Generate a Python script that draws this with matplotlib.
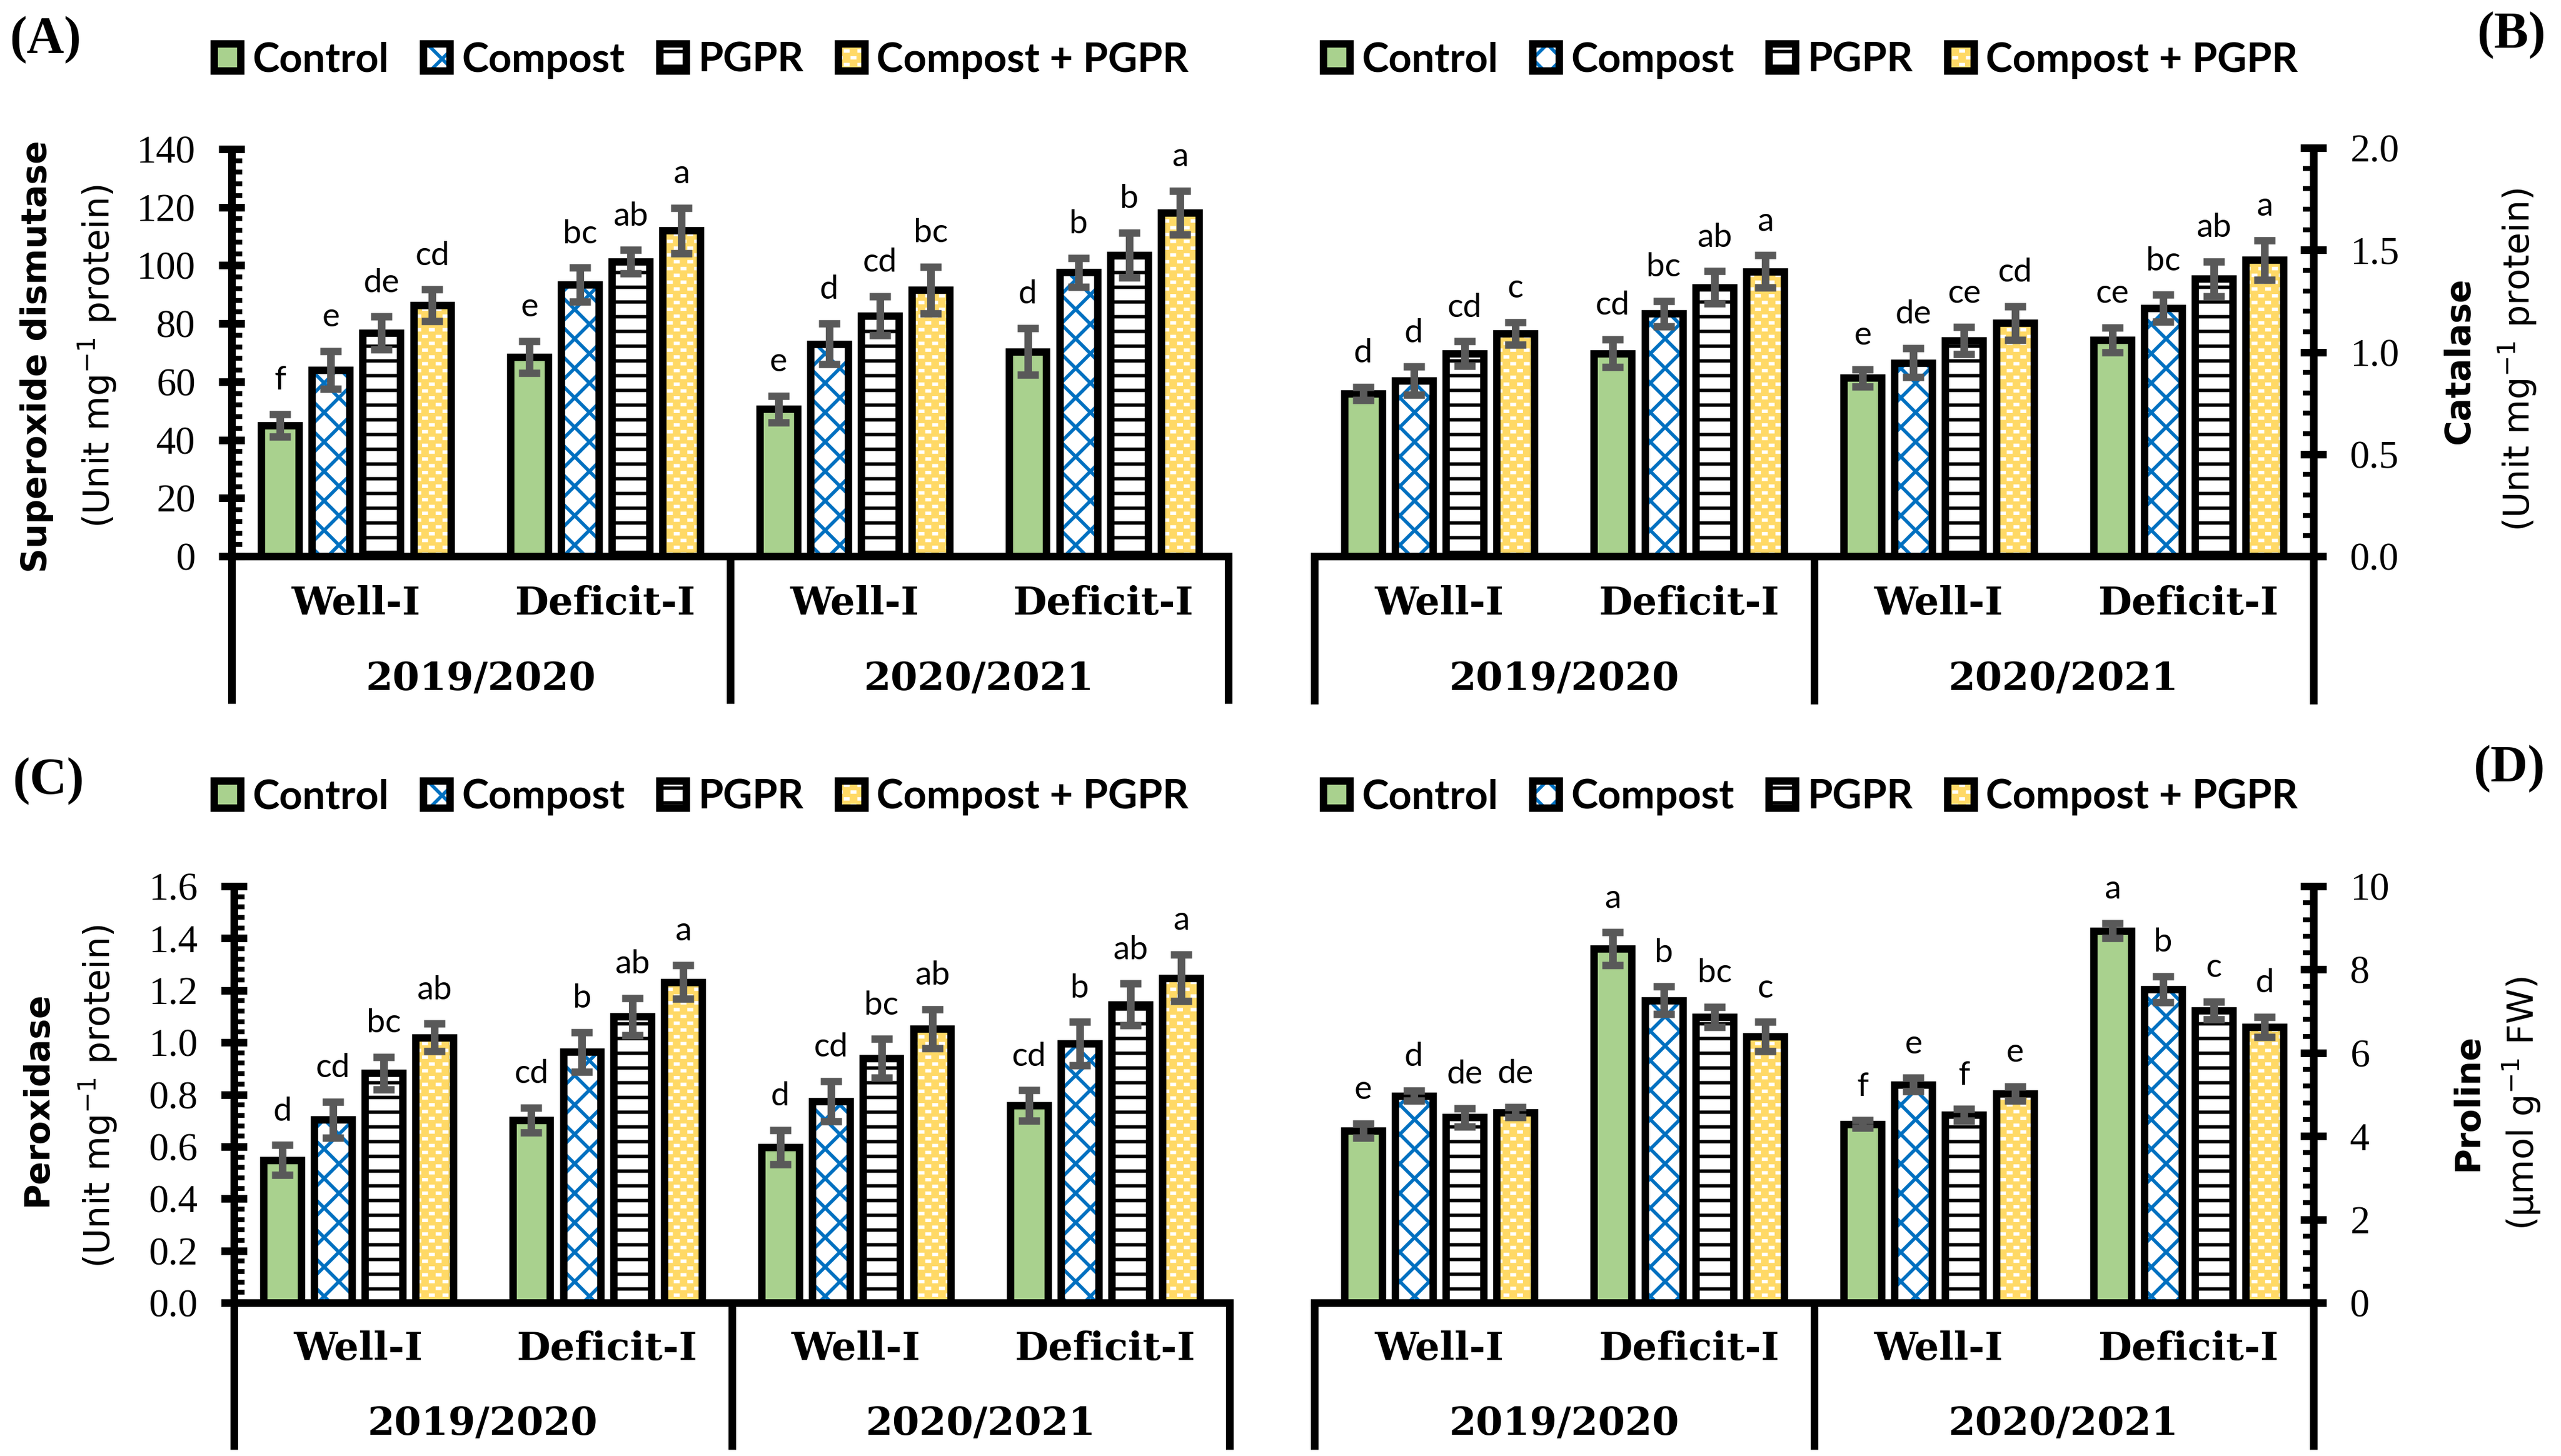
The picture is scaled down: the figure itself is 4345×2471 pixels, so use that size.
import matplotlib
matplotlib.use('Agg')
import matplotlib.pyplot as plt
import matplotlib.hatch as mhatch
import matplotlib.patches as mpatches
import matplotlib.transforms as mtransforms
from matplotlib.path import Path
from matplotlib.ticker import MultipleLocator, AutoMinorLocator, FormatStrFormatter
from matplotlib.legend_handler import HandlerTuple
import numpy as np

# ---------------- data ----------------
treatments = ["Control", "Compost", "PGPR", "Compost + PGPR"]
irrigation = ["Well-I", "Deficit-I", "Well-I", "Deficit-I"]
seasons = ["2019/2020", "2020/2021"]

# order of groups: 2019 Well, 2019 Deficit, 2020 Well, 2020 Deficit
sod_control = [45.0, 68.5, 50.6, 70.4]
sod_compost = [64.0, 93.4, 73.0, 97.6]
sod_pgpr = [76.8, 101.3, 82.7, 103.5]
sod_cp = [86.3, 112.0, 91.5, 118.1]
sod_err_control = [3.8, 5.5, 4.6, 8.0]
sod_err_compost = [6.5, 5.8, 7.0, 5.0]
sod_err_pgpr = [5.6, 4.0, 6.7, 7.7]
sod_err_cp = [5.4, 7.8, 8.0, 7.5]
sod_let_control = ["f", "e", "e", "d"]
sod_let_compost = ["e", "bc", "d", "b"]
sod_let_pgpr = ["de", "ab", "cd", "b"]
sod_let_cp = ["cd", "a", "bc", "a"]

cat_control = [0.796, 0.994, 0.874, 1.059]
cat_compost = [0.860, 1.188, 0.948, 1.214]
cat_pgpr = [0.992, 1.317, 1.056, 1.358]
cat_cp = [1.091, 1.395, 1.142, 1.451]
cat_err_control = [0.032, 0.069, 0.042, 0.061]
cat_err_compost = [0.068, 0.062, 0.072, 0.066]
cat_err_pgpr = [0.060, 0.079, 0.066, 0.085]
cat_err_cp = [0.055, 0.079, 0.083, 0.097]
cat_let_control = ["d", "cd", "e", "ce"]
cat_let_compost = ["d", "bc", "de", "bc"]
cat_let_pgpr = ["cd", "ab", "ce", "ab"]
cat_let_cp = ["c", "a", "cd", "a"]

pod_control = [0.548, 0.702, 0.598, 0.758]
pod_compost = [0.703, 0.963, 0.775, 0.996]
pod_pgpr = [0.882, 1.099, 0.939, 1.146]
pod_cp = [1.019, 1.232, 1.052, 1.248]
pod_err_control = [0.058, 0.048, 0.066, 0.058]
pod_err_compost = [0.069, 0.076, 0.077, 0.083]
pod_err_pgpr = [0.062, 0.072, 0.074, 0.080]
pod_err_cp = [0.053, 0.065, 0.075, 0.090]
pod_let_control = ["d", "cd", "d", "cd"]
pod_let_compost = ["cd", "b", "cd", "b"]
pod_let_pgpr = ["bc", "ab", "bc", "ab"]
pod_let_cp = ["ab", "a", "ab", "a"]

pro_control = [4.13, 8.50, 4.29, 8.93]
pro_compost = [4.97, 7.26, 5.24, 7.53]
pro_pgpr = [4.45, 6.86, 4.51, 7.02]
pro_cp = [4.57, 6.39, 5.02, 6.62]
pro_err_control = [0.17, 0.39, 0.09, 0.18]
pro_err_compost = [0.12, 0.33, 0.16, 0.31]
pro_err_pgpr = [0.22, 0.24, 0.14, 0.21]
pro_err_cp = [0.12, 0.35, 0.17, 0.24]
pro_let_control = ["e", "a", "f", "a"]
pro_let_compost = ["d", "b", "e", "b"]
pro_let_pgpr = ["de", "bc", "f", "c"]
pro_let_cp = ["de", "c", "e", "d"]

# ---------------- custom dash hatch for the yellow bars ----------------
class DashGrid(mhatch.HatchPatternBase):
    def __init__(self, hatch, density):
        n = hatch.count('.')
        self.ncols = 13 * n
        self.nrows = 26 * n
        self.num_vertices = self.ncols * self.nrows * 2

    def set_vertices_and_codes(self, vertices, codes):
        half = 0.007
        k = 0
        for r in range(self.nrows):
            y = (r + 0.5) / self.nrows
            sh = 0.25 if r % 2 == 0 else 0.75
            for c in range(self.ncols):
                xc = (c + sh) / self.ncols
                vertices[k] = (xc - half, y)
                codes[k] = Path.MOVETO
                vertices[k + 1] = (xc + half, y)
                codes[k + 1] = Path.LINETO
                k += 2

try:
    _i = mhatch._hatch_types.index(mhatch.SmallFilledCircles)
    mhatch._hatch_types[_i] = DashGrid
except Exception:
    pass

plt.rcParams['font.family'] = ['Liberation Serif', 'DejaVu Serif']
plt.rcParams['hatch.linewidth'] = 1.4
plt.rcParams['mathtext.fontset'] = 'dejavusans'

W, H = 4345, 2471
DPI = 300
fig = plt.figure(figsize=(W / DPI, H / DPI), dpi=DPI)

STYLES = [
    dict(face='#A9D18E', hcol='none', hatch=None),
    dict(face='white', hcol='#0070C0', hatch='xx'),
    dict(face='white', hcol='black', hatch='--'),
    dict(face='#FFD966', hcol='white', hatch='.'),
]
PITCH = 0.2035
BAR_W = 0.151
EDGE_LW = 3.0
SP_LW = 3.1
ERR_C = '#595959'
LET_FS = 13.5
TICK_FS = 16
GRP_FS = 15.8


def fx(px):
    return px / W


def fy(py):
    return 1 - py / H


def make_axes(l, r, top, bot):
    return fig.add_axes([fx(l), fy(bot), fx(r) - fx(l), fy(top) - fy(bot)])


def draw_panel(ax, vals, errs, lets, ymax, ystep, fmt, side, sep_bot, lab_y, yr_y):
    x = np.arange(len(irrigation))
    for j in range(4):
        st = STYLES[j]
        xs = x + (j - 1.5) * PITCH
        ax.bar(xs, vals[j], BAR_W, color=st['face'], edgecolor=st['hcol'],
               hatch=st['hatch'], linewidth=0, zorder=2)
        ax.bar(xs, vals[j], BAR_W, fill=False, edgecolor='black',
               linewidth=EDGE_LW, zorder=2.5)
        ax.errorbar(xs, vals[j], yerr=errs[j], fmt='none', ecolor=ERR_C,
                    elinewidth=3.1, capsize=4.3, capthick=3.0, zorder=3)
        for xi, vi, ei, li in zip(xs, vals[j], errs[j], lets[j]):
            ax.annotate(li, (xi, vi + ei), xytext=(0, 10), textcoords='offset points',
                        ha='center', va='baseline', fontsize=LET_FS, family='Lato')
    ax.set_xlim(-0.5, len(irrigation) - 0.5)
    ax.set_ylim(0, ymax)
    ax.yaxis.set_major_locator(MultipleLocator(ystep))
    ax.yaxis.set_minor_locator(AutoMinorLocator(5))
    ax.yaxis.set_major_formatter(FormatStrFormatter(fmt))
    ax.set_xticks([])
    for s in ['top', 'left', 'right']:
        ax.spines[s].set_visible(False)
    ax.spines['bottom'].set_linewidth(SP_LW)
    ax.spines[side].set_visible(True)
    ax.spines[side].set_linewidth(SP_LW)
    if side == 'right':
        ax.yaxis.tick_right()
        ax.tick_params(axis='y', which='both', left=False, right=True,
                       labelleft=False, labelright=True)
    ax.tick_params(axis='y', which='major', direction='inout', length=10.6,
                   width=3.1, pad=9.5, labelsize=TICK_FS)
    ax.tick_params(axis='y', which='minor', direction='in', length=4.3, width=2.0)
    ax.patch.set_alpha(0)
    trans = mtransforms.blended_transform_factory(ax.transData, ax.transAxes)
    for xv in [-0.5, 1.5, 3.5]:
        ax.plot([xv, xv], [sep_bot, 0], transform=trans, color='black', lw=SP_LW,
                clip_on=False, solid_capstyle='butt', zorder=4)
    for i, lab in enumerate(irrigation):
        ax.text(i, lab_y, lab, transform=trans, ha='center', va='center',
                fontsize=GRP_FS, fontweight='bold', family='DejaVu Serif')
    for k, s in enumerate(seasons):
        ax.text(0.5 + 2 * k, yr_y, s, transform=trans, ha='center', va='center',
                fontsize=GRP_FS, fontweight='bold', family='DejaVu Serif')


def add_legend(ax, cx, cy):
    handles = []
    for st in STYLES:
        p1 = mpatches.Patch(facecolor=st['face'], edgecolor=st['hcol'],
                            hatch=st['hatch'], linewidth=0)
        p2 = mpatches.Patch(fill=False, edgecolor='black', linewidth=EDGE_LW)
        handles.append((p1, p2))
    leg = ax.legend(handles, treatments, loc='center', bbox_to_anchor=(fx(cx), fy(cy)),
                    bbox_transform=fig.transFigure, ncol=4, frameon=False,
                    handler_map={tuple: HandlerTuple(ndivide=1)},
                    prop=dict(family='Lato', weight='bold', size=16.5),
                    handlelength=0.65, handleheight=0.65, handletextpad=0.3,
                    columnspacing=0.85, borderpad=0, borderaxespad=0)
    return leg


# Panel A
axA = make_axes(393, 2084, 253, 944)
draw_panel(axA, [sod_control, sod_compost, sod_pgpr, sod_cp],
           [sod_err_control, sod_err_compost, sod_err_pgpr, sod_err_cp],
           [sod_let_control, sod_let_compost, sod_let_pgpr, sod_let_cp],
           140, 20, '%d', 'left', -0.362, -0.117, -0.302)
add_legend(axA, 1190, 102)

# Panel B
axB = make_axes(2230, 3925, 251, 944)
draw_panel(axB, [cat_control, cat_compost, cat_pgpr, cat_cp],
           [cat_err_control, cat_err_compost, cat_err_pgpr, cat_err_cp],
           [cat_let_control, cat_let_compost, cat_let_pgpr, cat_let_cp],
           2.0, 0.5, '%.1f', 'right', -0.362, -0.117, -0.302)
add_legend(axB, 3072, 102)

# Panel C
axC = make_axes(397, 2086, 1504, 2211)
draw_panel(axC, [pod_control, pod_compost, pod_pgpr, pod_cp],
           [pod_err_control, pod_err_compost, pod_err_pgpr, pod_err_cp],
           [pod_let_control, pod_let_compost, pod_let_pgpr, pod_let_cp],
           1.6, 0.2, '%.1f', 'left', -0.352, -0.112, -0.291)
add_legend(axC, 1190, 1353)

# Panel D
axD = make_axes(2230, 3925, 1504, 2211)
draw_panel(axD, [pro_control, pro_compost, pro_pgpr, pro_cp],
           [pro_err_control, pro_err_compost, pro_err_pgpr, pro_err_cp],
           [pro_let_control, pro_let_compost, pro_let_pgpr, pro_let_cp],
           10, 2, '%d', 'right', -0.352, -0.112, -0.291)
add_legend(axD, 3072, 1353)

# y-axis titles
unit = r'(Unit mg$^{-1}$ protein)'
ylabels = [
    (63, 605, 'Superoxide dismutase', 165, 605, unit),
    (4173, 612, 'Catalase', 4271, 611, unit),
    (63, 1865, 'Peroxidase', 166, 1861, unit),
    (4187, 1871, 'Proline', 4278, 1873, r'(µmol g$^{-1}$ FW)'),
]
for bx, by, bt, rx, ry, rt in ylabels:
    fig.text(fx(bx), fy(by), bt, rotation=90, ha='center', va='center',
             fontsize=14, fontweight='bold', family='DejaVu Sans')
    fig.text(fx(rx), fy(ry), rt, rotation=90, ha='center', va='center',
             fontsize=14.5, family='DejaVu Sans')

# panel letters
for lx, ly, t in [(77, 68, '(A)'), (4260, 60, '(B)'), (82, 1326, '(C)'), (4257, 1305, '(D)')]:
    fig.text(fx(lx), fy(ly), t, ha='center', va='center', fontsize=21,
             fontweight='bold', family='Liberation Serif')

fig.savefig('out.png', dpi=DPI)
